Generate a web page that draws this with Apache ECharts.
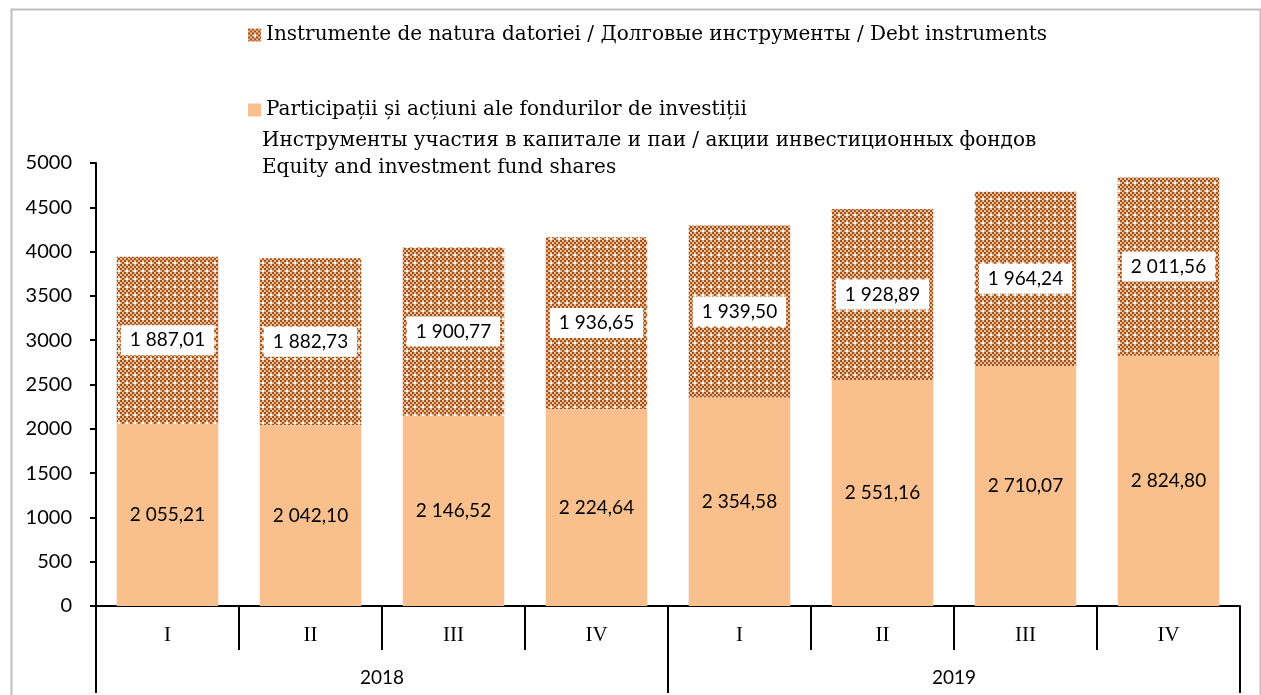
<!DOCTYPE html>
<html>
<head>
<meta charset="utf-8">
<script src="https://cdn.jsdelivr.net/npm/echarts@6/dist/echarts.min.js"></script>
<style>
  html, body { margin: 0; padding: 0; background: #fff; }
  #chart { width: 1261px; height: 695px; }
</style>
</head>
<body>
<div id="chart"></div>
<script>
var quarters = ['I', 'II', 'III', 'IV', 'I', 'II', 'III', 'IV'];
var years = ['2018', '2019'];
var equity = [2055.21, 2042.10, 2146.52, 2224.64, 2354.58, 2551.16, 2710.07, 2824.80];
var debt = [1887.01, 1882.73, 1900.77, 1936.65, 1939.50, 1928.89, 1964.24, 2011.56];
var equityName = 'Participații și acțiuni ale fondurilor de investiții';
var equityLines = ['Инструменты участия в капитале и паи / акции инвестиционных фондов', 'Equity and investment fund shares'];
var debtName = 'Instrumente de natura datoriei / Долговые инструменты / Debt instruments';

function makeTile() {
    var c = document.createElement('canvas');
    c.width = 8; c.height = 8;
    var ctx = c.getContext('2d');
    for (var y = 0; y < 8; y++) {
        for (var x = 0; x < 8; x++) {
            var on = ((x >> 1) + (y >> 1)) % 2 === 0;
            ctx.fillStyle = on ? '#a64f16' : '#e6bf9c';
            ctx.fillRect(x, y, 1, 1);
        }
    }
    ctx.fillStyle = '#ffffff';
    ctx.fillRect(6, 6, 2, 2);
    return c;
}

function fmt(v) {
    var parts = v.toFixed(2).split('.');
    var int = parts[0].replace(/\B(?=(\d{3})+(?!\d))/g, ' ');
    return int + ',' + parts[1];
}

var legendText = { fontFamily: 'DejaVu Serif', fontSize: 20, color: '#000' };

var option = {
    animation: false,
    backgroundColor: '#fff',
    grid: { left: 96, right: 21, top: 163, bottom: 89 },
    legend: [
        {
            data: [debtName],
            icon: 'rect',
            left: 243, top: 20,
            itemWidth: 13, itemHeight: 13, itemGap: 6,
            textStyle: legendText
        },
        {
            data: [equityName],
            icon: 'rect',
            left: 243, top: 95,
            itemWidth: 13, itemHeight: 13, itemGap: 6,
            textStyle: legendText
        }
    ],
    graphic: [
        {
            type: 'rect', left: 9, top: 7, z: -1,
            shape: { width: 1249, height: 700 },
            style: { fill: 'none', stroke: '#bfbfbf', lineWidth: 2 }
        },
        {
            type: 'text', left: 262, top: 127,
            style: {
                text: equityLines.join('\n'),
                font: '20px "DejaVu Serif"',
                fill: '#000',
                lineHeight: 27
            }
        }
    ],
    xAxis: [
        {
            type: 'category',
            data: quarters,
            axisLine: { lineStyle: { color: '#000', width: 2 } },
            axisTick: { show: true, interval: 0, length: 44, lineStyle: { color: '#000', width: 2 } },
            axisLabel: { interval: 0, margin: 19, color: '#000', fontFamily: 'Liberation Serif', fontSize: 21 }
        },
        {
            type: 'category',
            data: years,
            position: 'bottom',
            offset: 44,
            axisLine: { show: false },
            axisTick: { show: true, interval: 0, length: 43, lineStyle: { color: '#000', width: 2 } },
            axisLabel: { interval: 0, margin: 18, color: '#000', fontFamily: 'Lato', fontSize: 19 }
        }
    ],
    yAxis: {
        type: 'value',
        min: 0, max: 5000, interval: 500,
        splitLine: { show: false },
        axisLine: { show: true, lineStyle: { color: '#000', width: 2 } },
        axisTick: { show: true, length: 6, lineStyle: { color: '#000', width: 2 } },
        axisLabel: { margin: 24, color: '#000', fontFamily: 'Lato', fontSize: 20, formatter: function (v) { return String(v); } }
    },
    series: [
        {
            name: equityName,
            type: 'bar',
            stack: 'total',
            barWidth: '71%',
            data: equity,
            itemStyle: { color: '#f9c08e' },
            label: {
                show: true,
                position: 'inside',
                formatter: function (p) { return fmt(p.value); },
                color: '#000',
                fontFamily: 'Lato',
                fontSize: 19
            }
        },
        {
            name: debtName,
            type: 'bar',
            stack: 'total',
            data: debt,
            itemStyle: { color: { image: makeTile(), repeat: 'repeat' } },
            label: {
                show: true,
                position: 'inside',
                formatter: function (p) { return fmt(p.value); },
                color: '#000',
                fontFamily: 'Lato',
                fontSize: 19,
                backgroundColor: '#fff',
                padding: [6, 9, 5, 9]
            }
        }
    ]
};

var myChart = echarts.init(document.getElementById('chart'));
myChart.setOption(option);
</script>
</body>
</html>
